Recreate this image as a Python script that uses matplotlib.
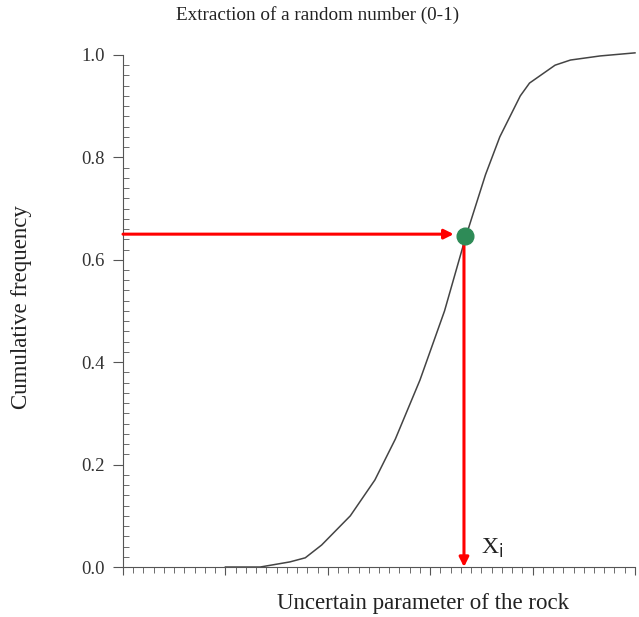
import numpy as np
import matplotlib.pyplot as plt
from matplotlib.ticker import MultipleLocator, NullFormatter

# cumulative curve (x in arbitrary units 0-50)
x_cdf = [10.0, 13.4, 16.3, 17.8, 19.4, 22.2, 24.6, 26.6, 29.0, 31.4, 33.4,
         35.4, 36.8, 38.8, 39.7, 42.2, 43.7, 46.6, 50.0]
y_cdf = [0.0, 0.0, 0.01, 0.018, 0.043, 0.10, 0.17, 0.25, 0.365, 0.50, 0.64,
         0.766, 0.84, 0.92, 0.945, 0.98, 0.99, 0.998, 1.004]

rand_val = 0.65
x_i = 33.3
y_ticks = [0.0, 0.2, 0.4, 0.6, 0.8, 1.0]

plt.rcParams['font.family'] = ['Liberation Serif', 'DejaVu Serif']

fig = plt.figure(figsize=(6.39, 6.17), dpi=100)
ax = fig.add_axes([0.1925, 0.081, 0.8012, 0.83])

ax.plot(x_cdf, y_cdf, color='#444444', lw=1.1, clip_on=False)

# horizontal arrow: random number -> curve
ax.annotate('', xy=(x_i - 1.0, rand_val), xytext=(0, rand_val),
            arrowprops=dict(arrowstyle='-|>', color='red', lw=2.2,
                            mutation_scale=14, shrinkA=0, shrinkB=0))
# vertical arrow: curve -> x axis
ax.annotate('', xy=(x_i, 0.0), xytext=(x_i, rand_val),
            arrowprops=dict(arrowstyle='-|>', color='red', lw=2.2,
                            mutation_scale=14, shrinkA=0, shrinkB=0))
ax.plot([x_i + 0.1], [rand_val - 0.004], 'o', color='#2e8b57', ms=12, zorder=5)

ax.text(x_i + 1.7, 0.025, r'X$_\mathrm{i}$', fontsize=17, color='#222222')

ax.set_xlim(0, 50)
ax.set_ylim(0, 1.0)
ax.set_yticks(y_ticks)
ax.set_yticklabels(['%.1f' % v for v in y_ticks])
ax.yaxis.set_minor_locator(MultipleLocator(0.02))
ax.xaxis.set_major_locator(MultipleLocator(10))
ax.xaxis.set_minor_locator(MultipleLocator(1))
ax.xaxis.set_major_formatter(NullFormatter())

for s in ['top', 'right']:
    ax.spines[s].set_visible(False)
for s in ['left', 'bottom']:
    ax.spines[s].set_color('#555555')

ax.tick_params(axis='y', which='major', direction='out', length=7,
               color='#555555', labelsize=13.5, labelcolor='#333333', pad=6)
ax.tick_params(axis='y', which='minor', direction='in', length=4, color='#555555')
ax.tick_params(axis='x', which='major', direction='out', length=6, color='#555555')
ax.tick_params(axis='x', which='minor', direction='out', length=4, color='#555555')

fig.text(318 / 639, 1 - 15 / 617, 'Extraction of a random number (0-1)',
         fontsize=13.8, color='#222222', ha='center', va='center')
fig.text(423 / 639, 1 - 604 / 617, 'Uncertain parameter of the rock',
         fontsize=16.5, color='#222222', ha='center', va='center')
fig.text(22 / 639, 1 - 307 / 617, 'Cumulative frequency', rotation=90,
         fontsize=16.5, color='#222222', ha='center', va='center')

fig.savefig('out.png', dpi=100)
